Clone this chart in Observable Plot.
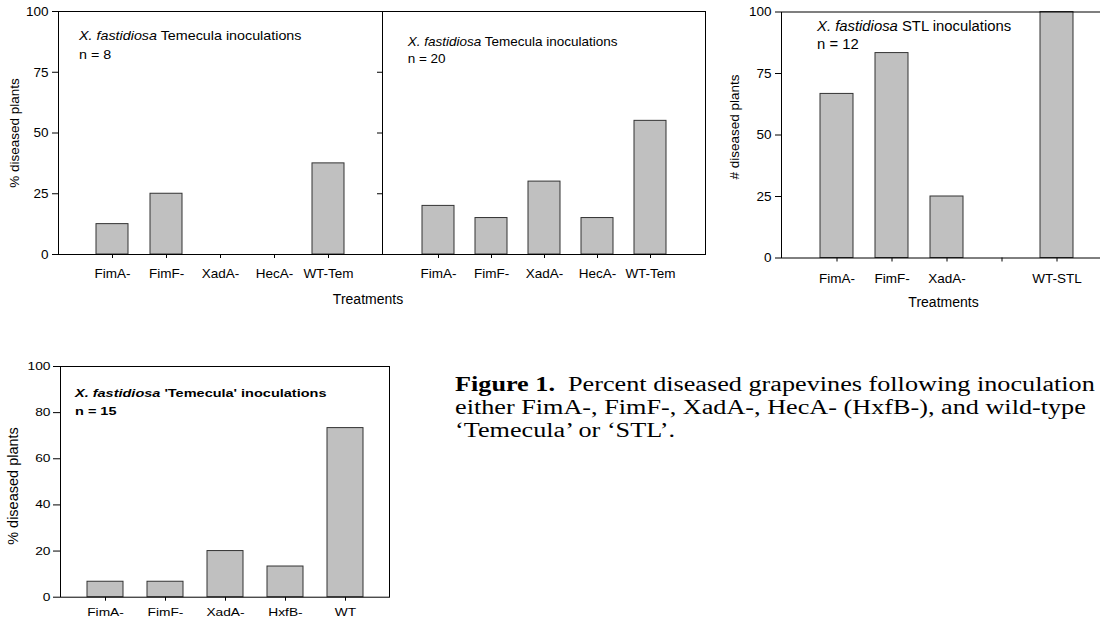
<!DOCTYPE html>
<html><head><meta charset="utf-8">
<script src="https://cdn.jsdelivr.net/npm/d3@7"></script>
<script src="https://cdn.jsdelivr.net/npm/@observablehq/plot@0.6"></script>
<style>
html,body{margin:0;padding:0;background:#fff;overflow:hidden;}
#fig{position:relative;width:1100px;height:619px;overflow:hidden;background:#fff;font-family:"Liberation Sans",Arial,sans-serif;color:#000;}
.pos{position:absolute;}
.t{position:absolute;white-space:nowrap;transform-origin:0 0;}
</style></head><body><div id="fig"></div>
<script>
// ---- data ----
const treatmentsTem = ["FimA-", "FimF-", "XadA-", "HecA-", "WT-Tem"];
const pctTemN8 = [12.5, 25, 0, 0, 37.5];
const pctTemN20 = [20, 15, 30, 15, 55];
const treatmentsSTL = ["FimA-", "FimF-", "XadA-", "HecA-", "WT-STL"];
const tickLabelsSTL = ["FimA-", "FimF-", "XadA-", "", "WT-STL"];
const valuesSTL = [66.7, 83.3, 25, 0, 100];
const treatmentsB = ["FimA-", "FimF-", "XadA-", "HxfB-", "WT"];
const pctTemN15 = [6.7, 6.7, 20, 13.3, 73.3];
const yTicks25 = [0, 25, 50, 75, 100];
const yTicks20 = [0, 20, 40, 60, 80, 100];

const fig = document.getElementById("fig");
const SANS = '"Liberation Sans", Arial, sans-serif';
const SERIF = '"Liberation Serif", "Times New Roman", serif';

function panel(o) {
  const data = o.cats.map((c, i) => ({c, v: o.vals[i]})).filter(d => d.v > 0);
  const marks = [
    Plot.barY(data, {x: "c", y: "v", fill: "#c0c0c0", stroke: "#333", strokeWidth: 1}),
    Plot.frame({stroke: "#000"})
  ];
  const svg = Plot.plot({
    width: o.width, height: o.height,
    marginTop: o.mt, marginRight: o.mr, marginBottom: o.mb, marginLeft: o.ml,
    x: {type: "band", domain: o.cats, paddingInner: o.pi, paddingOuter: o.po,
        tickSize: 4, tickPadding: o.xPad,
        tickFormat: o.labels ? (d => o.labels[o.cats.indexOf(d)]) : (d => d), label: null},
    y: {domain: [0, 100], ticks: o.yTicks, tickSize: o.ySize, tickPadding: o.yPad,
        tickFormat: o.showY ? (d => String(d)) : (() => ""), label: null},
    style: {background: "transparent", fontFamily: SANS, fontSize: o.fontSize + "px", color: "#000"},
    marks
  });
  svg.querySelectorAll('[aria-label^="x-axis"], [aria-label^="y-axis"]').forEach(g => {
    g.setAttribute("font-size", o.fontSize);
    g.setAttribute("font-family", SANS);
  });
  svg.querySelectorAll('[aria-label^="x-axis"] text, [aria-label^="y-axis"] text').forEach(t => {
    t.removeAttribute("font-size");
    t.removeAttribute("font-family");
    t.setAttribute("fill", "#000");
  });
  if (o.tickScale) {
    const s = o.tickScale;
    svg.querySelectorAll('[aria-label^="x-axis"] text, [aria-label^="y-axis"] text').forEach(t => {
      const x = t.getAttribute("x");
      if (x) t.setAttribute("x", +x / s);
      t.setAttribute("transform", ((t.getAttribute("transform") || "") + ` scale(${s},1)`).trim());
    });
  }
  const div = document.createElement("div");
  div.className = "pos";
  Object.assign(div.style, {left: o.left + "px", top: o.top + "px", width: o.width + "px", height: o.height + "px"});
  div.appendChild(svg);
  fig.appendChild(div);
}

function addText(html, o) {
  const d = document.createElement("div");
  d.className = "t";
  d.innerHTML = html;
  const sx = o.scaleX || 1;
  Object.assign(d.style, {
    left: o.left + "px", top: o.top + "px", fontSize: o.size + "px", lineHeight: o.lh + "px",
    fontFamily: o.family || SANS, fontWeight: o.weight || "normal",
    transform: o.center ? `translateX(-50%) scaleX(${sx})` : `scaleX(${sx})`
  });
  fig.appendChild(d);
}

function addVLabel(text, cx, cy, size) {
  const d = document.createElement("div");
  d.textContent = text;
  Object.assign(d.style, {
    position: "absolute", left: cx + "px", top: cy + "px", fontSize: size + "px",
    lineHeight: (size * 1.117) + "px", whiteSpace: "nowrap", fontFamily: SANS,
    transformOrigin: "0 0", transform: "rotate(-90deg) translate(-50%,-50%)"
  });
  fig.appendChild(d);
}

// Panel 1: Temecula n = 8
panel({left: 0, top: 0, width: 390, height: 290, mt: 11, mr: 8, mb: 36, ml: 58,
  cats: treatmentsTem, vals: pctTemN8, yTicks: yTicks25, showY: true,
  pi: 0.4, po: 0.7, fontSize: 13.5, ySize: 6, yPad: 4, xPad: 9.7});
// Panel 2: Temecula n = 20
panel({left: 372, top: 0, width: 345, height: 290, mt: 11, mr: 12, mb: 36, ml: 10,
  cats: treatmentsTem, vals: pctTemN20, yTicks: yTicks25, showY: false,
  pi: 0.4, po: 0.7, fontSize: 13.5, ySize: 5, yPad: 3, xPad: 9.7});
// Panel 3: STL n = 12
panel({left: 720, top: 0, width: 401, height: 300, mt: 11.5, mr: 10, mb: 42.5, ml: 61,
  cats: treatmentsSTL, labels: tickLabelsSTL, vals: valuesSTL, yTicks: yTicks25, showY: true,
  pi: 0.4, po: 0.7, fontSize: 13.5, ySize: 6, yPad: 4, xPad: 11.5});
// Panel 4: 'Temecula' n = 15
panel({left: 0, top: 350, width: 400, height: 269, mt: 16, mr: 11, mb: 22.3, ml: 60,
  cats: treatmentsB, vals: pctTemN15, yTicks: yTicks20, showY: true,
  pi: 0.4, po: 0.4, fontSize: 11, ySize: 7, yPad: 3, xPad: 7, tickScale: 1.25});

// y-axis titles
addVLabel("% diseased plants", 15, 133, 13.5);
addVLabel("# diseased plants", 735, 127, 13.5);
addVLabel("% diseased plants", 13.3, 486, 14.5);

// panel titles
addText('<i>X. fastidiosa</i> Temecula inoculations<br>n = 8', {left: 79, top: 25.8, size: 13.5, lh: 19, scaleX: 1.06});
addText('<i>X. fastidiosa</i> Temecula inoculations<br>n = 20', {left: 407.7, top: 32.5, size: 13.5, lh: 17});
addText('<i>X. fastidiosa</i> STL inoculations<br>n = 12', {left: 816.7, top: 16.5, size: 14, lh: 18.6, scaleX: 1.06});
addText("<i>X. fastidiosa</i> 'Temecula' inoculations<br>n = 15", {left: 75, top: 383.5, size: 11.6, lh: 18.3, weight: "bold", scaleX: 1.25});
// x-axis titles
addText('Treatments', {left: 368, top: 291.2, size: 14, lh: 16, center: true});
addText('Treatments', {left: 943.5, top: 293.9, size: 14, lh: 16, center: true});
// caption
addText('<b>Figure 1.</b>&nbsp; Percent diseased grapevines following inoculation<br>either FimA-, FimF-, XadA-, HecA- (HxfB-), and wild-type<br>\u2018Temecula\u2019 or \u2018STL\u2019.',
  {left: 455, top: 372.5, size: 20, lh: 23, family: SERIF, scaleX: 1.31});
</script></body></html>
